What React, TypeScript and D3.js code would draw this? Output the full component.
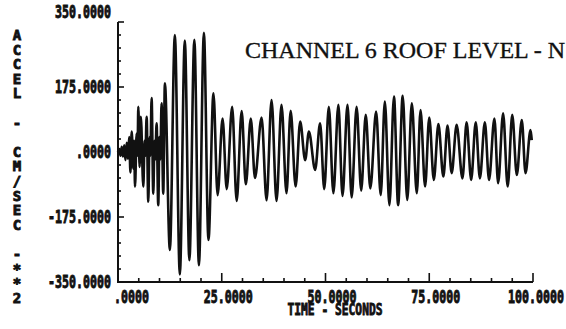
import React, { useEffect, useRef } from 'react';
import * as d3 from 'd3';

const timeSec = [
  0, 0.3, 0.6, 0.9, 1.2, 1.5, 1.8, 2.1, 2.4, 2.7, 3.0, 3.3, 3.7, 3.9, 4.1, 4.5, 4.7, 4.9, 5.2, 5.5,
  6.1, 6.4, 6.6, 6.9, 7.3, 7.6, 7.8, 8.1, 8.5, 8.8, 9.0, 9.3, 9.7, 10.0, 10.2, 10.5, 10.9, 11.3,
  12.5, 13.7, 14.9, 16.1, 17.2, 18.4, 19.5, 20.7, 21.8, 23.0, 24.0, 25.2, 26.2, 27.5, 28.6, 29.8,
  30.8, 32.0, 33.0, 34.6, 35.8, 37.0, 38.2, 39.4, 40.6, 41.6, 42.8, 43.9, 45.1, 46.0, 47.5, 48.7,
  49.7, 50.8, 51.9, 53.1, 54.1, 55.3, 56.3, 57.5, 58.6, 59.7, 60.8, 62.2, 63.3, 64.3, 65.4, 66.5,
  67.5, 68.6, 69.7, 70.8, 72.0, 72.9, 74.0, 75.0, 76.1, 77.2, 78.4, 79.4, 80.4, 81.6, 83.0, 84.0,
  85.1, 86.2, 87.2, 88.4, 89.4, 90.7, 91.6, 92.8, 93.9, 95.0, 96.1, 97.3, 98.2, 99.4, 99.7,
];
const accel = [
  0, 8, -10, 14, -12, 18, -22, 25, -18, 40, -55, 55, -45, 30, -93, 50, -10, 122, -40, 95,
  -93, 30, -10, 95, -134, 40, -10, 145, -112, 30, -20, 77, -143, 40, -20, 131, -112, 185,
  -264, 315, -330, 300, -291, 302, -305, 321, -237, 158, -116, 90, -100, 122, -132, 110,
  -87, 90, -70, 93, -130, 140, -132, 127, -111, 111, -93, 82, -22, 55, -48, 77,
  -100, 122, -111, 127, -118, 127, -122, 122, -104, 100, -98, 109, -116, 136, -143, 149,
  -143, 151, -129, 131, -111, 113, -93, 93, -75, 75, -66, 71, -57, 73, -71, 80,
  -75, 80, -71, 80, -75, 90, -84, 104, -93, 100, -62, 86, -57, 59, 32,
];

const yTicks = [350, 175, 0, -175, -350];
const yTickLabels = ['350.0000', '175.0000', '.0000', '-175.0000', '-350.0000'];
const xTicks = [0, 25, 50, 75, 100];
const xTickLabels = ['.0000', '25.0000', '50.0000', '75.0000', '100.0000'];
const title = 'CHANNEL 6 ROOF LEVEL - N';
const xTitle = 'TIME - SECONDS';
const yTitle = 'ACCEL - CM/SEC -**2';

export default function App() {
  const svgRef = useRef<SVGSVGElement>(null);
  const width = 566;
  const height = 329;

  useEffect(() => {
    if (!svgRef.current) return;
    const svg = d3.select(svgRef.current);
    svg.selectAll('*').remove();

    const ink = '#111';
    const mono = '"DejaVu Sans Mono", monospace';
    const x = d3.scaleLinear().domain([0, 100]).range([118, 533]);
    const y = d3.scaleLinear().domain([-350, 350]).range([282, 22]);

    svg.append('rect').attr('width', width).attr('height', height).attr('fill', '#fff');

    // title, runs off the right edge like the scan
    svg.append('text').attr('x', 245).attr('y', 58).attr('fill', ink)
      .attr('stroke', ink).attr('stroke-width', 0.35)
      .style('font-family', '"Liberation Serif", serif').style('font-size', '24px').text(title);

    // axes frame
    svg.append('line').attr('x1', x(0)).attr('x2', x(0)).attr('y1', y(350)).attr('y2', y(-350))
      .attr('stroke', ink).attr('stroke-width', 2);
    svg.append('line').attr('x1', x(0) - 1).attr('x2', x(100)).attr('y1', y(-350)).attr('y2', y(-350))
      .attr('stroke', ink).attr('stroke-width', 2);

    // inward ticks
    const yMinor = d3.range(-350, 351, 35);
    svg.append('g').selectAll('line').data(yMinor).enter().append('line')
      .attr('x1', x(0)).attr('x2', d => x(0) + (d % 175 === 0 ? 6 : 3))
      .attr('y1', d => y(d)).attr('y2', d => y(d)).attr('stroke', ink).attr('stroke-width', 1.6);
    const xMinor = d3.range(0, 101, 5);
    svg.append('g').selectAll('line').data(xMinor).enter().append('line')
      .attr('x1', d => x(d)).attr('x2', d => x(d))
      .attr('y1', y(-350)).attr('y2', d => y(-350) - (d % 25 === 0 ? 9 : 4))
      .attr('stroke', ink).attr('stroke-width', 1.6);

    // tick labels, heavy condensed like the plotter font
    const heavy = (sel: any, size: number) => sel
      .attr('fill', ink).attr('stroke', ink).attr('stroke-width', 0.9)
      .style('font-family', mono).style('font-weight', 'bold').style('font-size', `${size}px`);

    heavy(svg.append('g').selectAll('text').data(yTicks).enter().append('text')
      .attr('x', 111).attr('y', (d, i) => y(d) + 6 - (i === 0 ? 10 : 0))
      .attr('text-anchor', 'end')
      .attr('textLength', (d, i) => yTickLabels[i].length * 7).attr('lengthAdjust', 'spacingAndGlyphs')
      .text((d, i) => yTickLabels[i]), 17);
    heavy(svg.append('g').selectAll('text').data(xTicks).enter().append('text')
      .attr('x', d => x(d) + 31).attr('y', 303)
      .attr('text-anchor', 'end')
      .attr('textLength', (d, i) => xTickLabels[i].length * 7).attr('lengthAdjust', 'spacingAndGlyphs')
      .text((d, i) => xTickLabels[i]), 17);

    heavy(svg.append('text').attr('x', 335).attr('y', 315).attr('text-anchor', 'middle')
      .attr('textLength', 95).attr('lengthAdjust', 'spacingAndGlyphs')
      .text(xTitle), 16);

    // stacked y title
    const chars = yTitle.split('');
    heavy(svg.append('g').selectAll('text').data(chars).enter().append('text')
      .attr('x', 17).attr('y', (d, i) => 35 + i * 14.6 + 5)
      .attr('text-anchor', 'middle')
      .text(d => d), 14);

    // trace
    const pts = timeSec.map((t, i) => [t, accel[i]] as [number, number]);
    const line = d3.line<[number, number]>().x(d => x(d[0])).y(d => y(d[1])).curve(d3.curveMonotoneX);
    svg.append('path').datum(pts).attr('fill', 'none').attr('stroke', ink)
      .attr('stroke-width', 2.6).attr('stroke-linejoin', 'round').attr('d', line);
  }, []);

  return (
    <svg ref={svgRef} width={width} height={height} viewBox={`0 0 ${width} ${height}`}
      style={{ position: 'absolute', left: 0, top: 0, display: 'block' }} />
  );
}
